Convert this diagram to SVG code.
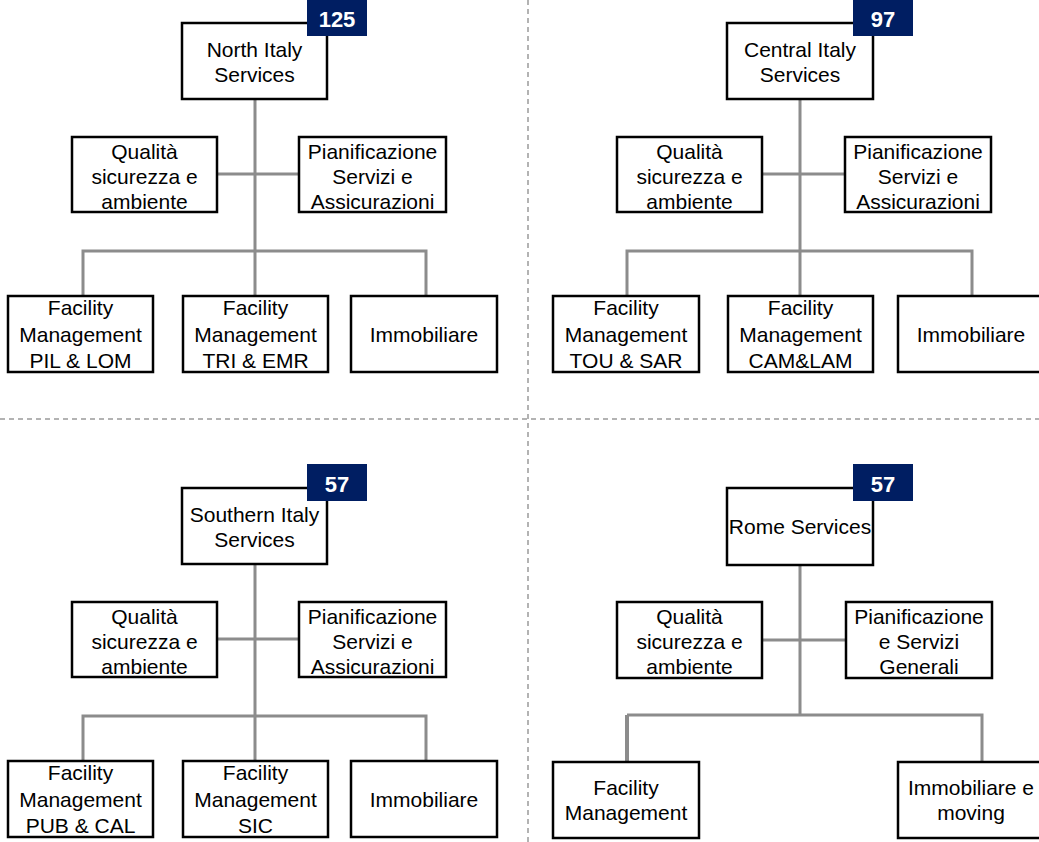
<svg xmlns="http://www.w3.org/2000/svg" width="1039" height="842" viewBox="0 0 1039 842">
  <style>
    .box { fill: #ffffff; stroke: #000000; stroke-width: 2.5; }
    .badge { fill: #001e62; }
    .lbl { font-family: "Liberation Sans", Arial, sans-serif; font-size: 21px; fill: #000000; text-anchor: middle; }
    .num { font-family: "Liberation Sans", Arial, sans-serif; font-size: 22px; font-weight: bold; fill: #ffffff; text-anchor: middle; }
    .link { fill: none; stroke: #8c8c8c; stroke-width: 3; }
    .sep { fill: none; stroke: #9a9a9a; stroke-width: 1.5; stroke-dasharray: 5 4; }
  </style>

  <!-- quadrant separators -->
  <g id="separators">
    <line class="sep" x1="0" y1="419" x2="1039" y2="419"/>
    <line class="sep" x1="528" y1="0" x2="528" y2="842"/>
  </g>

  <!-- connectors -->
  <g id="connectors">
    <!-- North -->
    <path class="link" d="M255 99 V296 M217 174 H299 M83 296 V251 H426 V296"/>
    <!-- Central -->
    <path class="link" d="M800 99 V296 M762 174 H845 M627 296 V251 H972 V296"/>
    <!-- Southern -->
    <path class="link" d="M255 564 V761 M217 639 H299 M83 761 V716 H426 V761"/>
    <!-- Rome -->
    <path class="link" d="M800 565 V715 M762 640 H846 M982 762 V715 H627"/>
    <path class="link" style="stroke-width:4" d="M627 715 V762"/>
  </g>

  <!-- North Italy -->
  <g id="north-head">
    <rect class="box" x="182" y="23" width="145" height="76"/>
    <text class="lbl" x="254.5" y="57">North Italy</text>
    <text class="lbl" x="254.5" y="82">Services</text>
  </g>
  <g id="north-badge">
    <rect class="badge" x="307" y="0" width="60" height="36"/>
    <text class="num" x="337" y="27">125</text>
  </g>
  <g id="north-qual">
    <rect class="box" x="72" y="137" width="145" height="75"/>
    <text class="lbl" x="144.5" y="159">Qualità</text>
    <text class="lbl" x="144.5" y="184">sicurezza e</text>
    <text class="lbl" x="144.5" y="209">ambiente</text>
  </g>
  <g id="north-pian">
    <rect class="box" x="299" y="137" width="147" height="75"/>
    <text class="lbl" x="372.5" y="159">Pianificazione</text>
    <text class="lbl" x="372.5" y="184">Servizi e</text>
    <text class="lbl" x="372.5" y="209">Assicurazioni</text>
  </g>
  <g id="north-fm1">
    <rect class="box" x="8" y="296" width="145" height="76"/>
    <text class="lbl" x="80.5" y="315">Facility</text>
    <text class="lbl" x="80.5" y="342">Management</text>
    <text class="lbl" x="80.5" y="368">PIL &amp; LOM</text>
  </g>
  <g id="north-fm2">
    <rect class="box" x="183" y="296" width="145" height="76"/>
    <text class="lbl" x="255.5" y="315">Facility</text>
    <text class="lbl" x="255.5" y="342">Management</text>
    <text class="lbl" x="255.5" y="368">TRI &amp; EMR</text>
  </g>
  <g id="north-imm">
    <rect class="box" x="351" y="296" width="146" height="76"/>
    <text class="lbl" x="424" y="342">Immobiliare</text>
  </g>

  <!-- Central Italy -->
  <g id="central-head">
    <rect class="box" x="727" y="23" width="146" height="76"/>
    <text class="lbl" x="800" y="57">Central Italy</text>
    <text class="lbl" x="800" y="82">Services</text>
  </g>
  <g id="central-badge">
    <rect class="badge" x="853" y="0" width="60" height="36"/>
    <text class="num" x="883" y="27">97</text>
  </g>
  <g id="central-qual">
    <rect class="box" x="617" y="137" width="145" height="75"/>
    <text class="lbl" x="689.5" y="159">Qualità</text>
    <text class="lbl" x="689.5" y="184">sicurezza e</text>
    <text class="lbl" x="689.5" y="209">ambiente</text>
  </g>
  <g id="central-pian">
    <rect class="box" x="845" y="137" width="146" height="75"/>
    <text class="lbl" x="918" y="159">Pianificazione</text>
    <text class="lbl" x="918" y="184">Servizi e</text>
    <text class="lbl" x="918" y="209">Assicurazioni</text>
  </g>
  <g id="central-fm1">
    <rect class="box" x="553" y="296" width="146" height="76"/>
    <text class="lbl" x="626" y="315">Facility</text>
    <text class="lbl" x="626" y="342">Management</text>
    <text class="lbl" x="626" y="368">TOU &amp; SAR</text>
  </g>
  <g id="central-fm2">
    <rect class="box" x="728" y="296" width="145" height="76"/>
    <text class="lbl" x="800.5" y="315">Facility</text>
    <text class="lbl" x="800.5" y="342">Management</text>
    <text class="lbl" x="800.5" y="368">CAM&amp;LAM</text>
  </g>
  <g id="central-imm">
    <rect class="box" x="898" y="296" width="146" height="76"/>
    <text class="lbl" x="971" y="342">Immobiliare</text>
  </g>

  <!-- Southern Italy -->
  <g id="south-head">
    <rect class="box" x="182" y="488" width="145" height="76"/>
    <text class="lbl" x="254.5" y="522">Southern Italy</text>
    <text class="lbl" x="254.5" y="547">Services</text>
  </g>
  <g id="south-badge">
    <rect class="badge" x="307" y="464" width="60" height="37"/>
    <text class="num" x="337" y="492">57</text>
  </g>
  <g id="south-qual">
    <rect class="box" x="72" y="602" width="145" height="75"/>
    <text class="lbl" x="144.5" y="624">Qualità</text>
    <text class="lbl" x="144.5" y="649">sicurezza e</text>
    <text class="lbl" x="144.5" y="674">ambiente</text>
  </g>
  <g id="south-pian">
    <rect class="box" x="299" y="602" width="147" height="75"/>
    <text class="lbl" x="372.5" y="624">Pianificazione</text>
    <text class="lbl" x="372.5" y="649">Servizi e</text>
    <text class="lbl" x="372.5" y="674">Assicurazioni</text>
  </g>
  <g id="south-fm1">
    <rect class="box" x="8" y="761" width="145" height="76"/>
    <text class="lbl" x="80.5" y="780">Facility</text>
    <text class="lbl" x="80.5" y="807">Management</text>
    <text class="lbl" x="80.5" y="833">PUB &amp; CAL</text>
  </g>
  <g id="south-fm2">
    <rect class="box" x="183" y="761" width="145" height="76"/>
    <text class="lbl" x="255.5" y="780">Facility</text>
    <text class="lbl" x="255.5" y="807">Management</text>
    <text class="lbl" x="255.5" y="833">SIC</text>
  </g>
  <g id="south-imm">
    <rect class="box" x="351" y="761" width="146" height="76"/>
    <text class="lbl" x="424" y="807">Immobiliare</text>
  </g>

  <!-- Rome -->
  <g id="rome-head">
    <rect class="box" x="727" y="488" width="146" height="77"/>
    <text class="lbl" x="800" y="534">Rome Services</text>
  </g>
  <g id="rome-badge">
    <rect class="badge" x="853" y="464" width="60" height="37"/>
    <text class="num" x="883" y="492">57</text>
  </g>
  <g id="rome-qual">
    <rect class="box" x="617" y="602" width="145" height="76"/>
    <text class="lbl" x="689.5" y="624">Qualità</text>
    <text class="lbl" x="689.5" y="649">sicurezza e</text>
    <text class="lbl" x="689.5" y="674">ambiente</text>
  </g>
  <g id="rome-pian">
    <rect class="box" x="846" y="602" width="146" height="76"/>
    <text class="lbl" x="919" y="624">Pianificazione</text>
    <text class="lbl" x="919" y="649">e Servizi</text>
    <text class="lbl" x="919" y="674">Generali</text>
  </g>
  <g id="rome-fm">
    <rect class="box" x="553" y="762" width="146" height="76"/>
    <text class="lbl" x="626" y="795">Facility</text>
    <text class="lbl" x="626" y="820">Management</text>
  </g>
  <g id="rome-imm">
    <rect class="box" x="898" y="762" width="146" height="76"/>
    <text class="lbl" x="971" y="795">Immobiliare e</text>
    <text class="lbl" x="971" y="820">moving</text>
  </g>
</svg>
